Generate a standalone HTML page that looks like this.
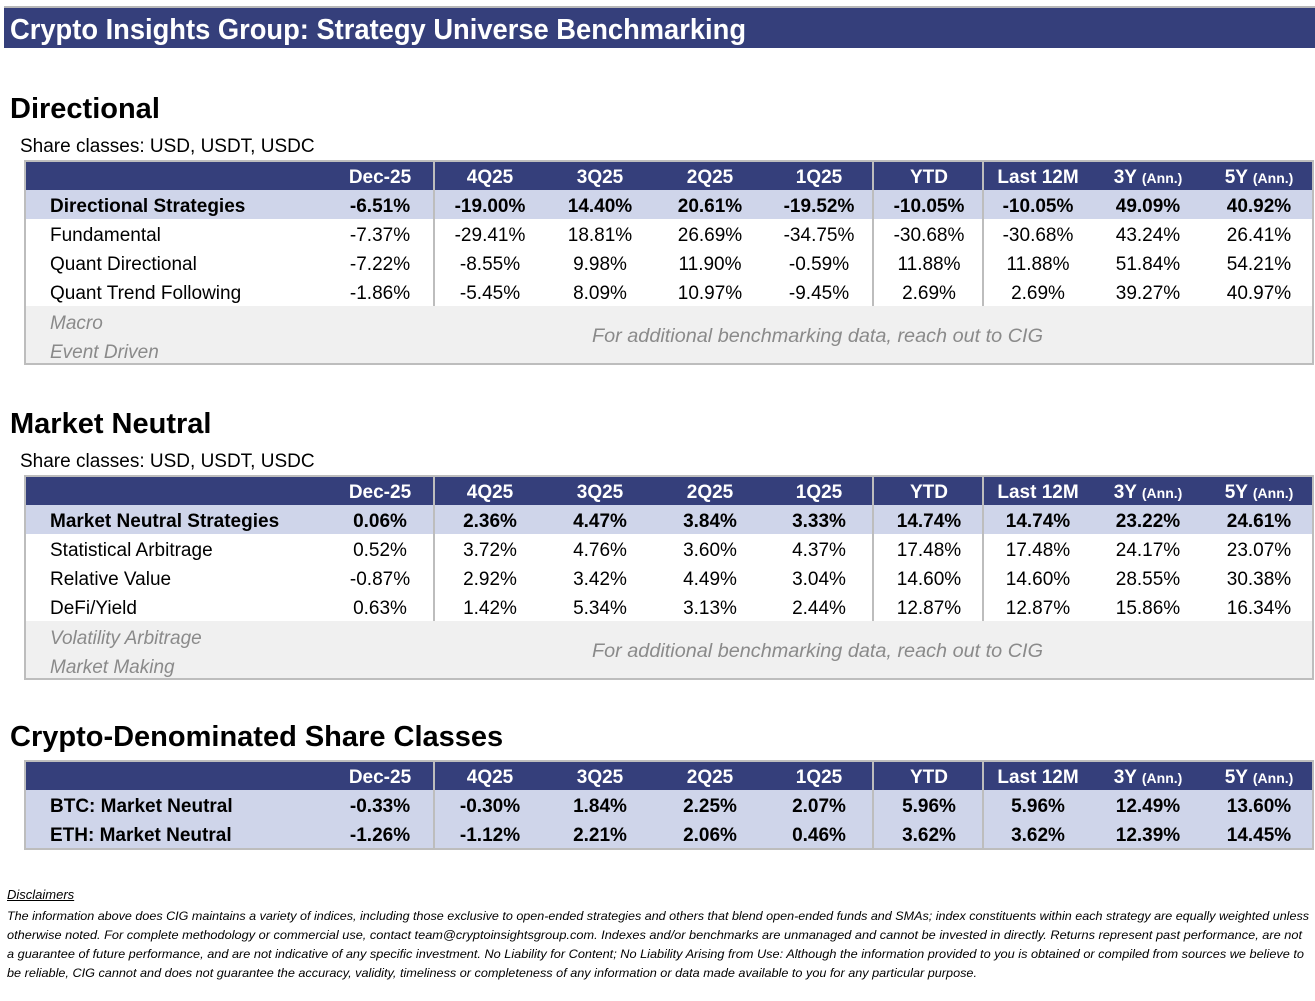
<!DOCTYPE html>
<html><head><meta charset="utf-8"><style>
body{margin:0;width:1315px;height:1001px;background:#fff;position:relative;overflow:hidden;font-family:"Liberation Sans",sans-serif;color:#000}
.a{position:absolute;white-space:nowrap}
.fit{transform-origin:0 50%}
.bar{position:absolute;left:4px;top:6px;width:1311px;height:42px;background:#353f7b;border-top:2px solid #b8b8b8;box-sizing:border-box}
.h{background:#353f7b;position:absolute}
.cell{position:absolute;width:110px;text-align:center;font-size:19px;line-height:29px;padding-top:2px}
.lab{position:absolute;left:50px;font-size:19px;line-height:29px;padding-top:2px}
</style></head><body>
<div class="bar"></div>
<div class="a fit" data-w="736" style="left:10px;top:12px;font-size:29px;font-weight:bold;color:#fff;line-height:36px">Crypto Insights Group: Strategy Universe Benchmarking</div>
<div id="root"></div>
<div class="a" style="left:7px;top:886px;font-size:13px;font-style:italic;text-decoration:underline;line-height:18px">Disclaimers</div>
<div class="a fit" data-w="1302" style="left:7px;top:907px;font-size:12px;font-style:italic;line-height:19px">The information above does CIG maintains a variety of indices, including those exclusive to open-ended strategies and others that blend open-ended funds and SMAs; index constituents within each strategy are equally weighted unless</div>
<div class="a fit" data-w="1295" style="left:7px;top:926px;font-size:12px;font-style:italic;line-height:19px">otherwise noted. For complete methodology or commercial use, contact team@cryptoinsightsgroup.com. Indexes and/or benchmarks are unmanaged and cannot be invested in directly. Returns represent past performance, are not</div>
<div class="a fit" data-w="1297" style="left:7px;top:945px;font-size:12px;font-style:italic;line-height:19px">a guarantee of future performance, and are not indicative of any specific investment. No Liability for Content; No Liability Arising from Use: Although the information provided to you is obtained or compiled from sources we believe to</div>
<div class="a fit" data-w="970" style="left:7px;top:964px;font-size:12px;font-style:italic;line-height:19px">be reliable, CIG cannot and does not guarantee the accuracy, validity, timeliness or completeness of any information or data made available to you for any particular purpose.</div>
<script>
const columns=["Dec-25","4Q25","3Q25","2Q25","1Q25","YTD","Last 12M","3Y","5Y"];
const dirLabels=["Directional Strategies","Fundamental","Quant Directional","Quant Trend Following"];
const dirValues=[
["-6.51%","-19.00%","14.40%","20.61%","-19.52%","-10.05%","-10.05%","49.09%","40.92%"],
["-7.37%","-29.41%","18.81%","26.69%","-34.75%","-30.68%","-30.68%","43.24%","26.41%"],
["-7.22%","-8.55%","9.98%","11.90%","-0.59%","11.88%","11.88%","51.84%","54.21%"],
["-1.86%","-5.45%","8.09%","10.97%","-9.45%","2.69%","2.69%","39.27%","40.97%"]];
const dirMore=["Macro","Event Driven"];
const mnLabels=["Market Neutral Strategies","Statistical Arbitrage","Relative Value","DeFi/Yield"];
const mnValues=[
["0.06%","2.36%","4.47%","3.84%","3.33%","14.74%","14.74%","23.22%","24.61%"],
["0.52%","3.72%","4.76%","3.60%","4.37%","17.48%","17.48%","24.17%","23.07%"],
["-0.87%","2.92%","3.42%","4.49%","3.04%","14.60%","14.60%","28.55%","30.38%"],
["0.63%","1.42%","5.34%","3.13%","2.44%","12.87%","12.87%","15.86%","16.34%"]];
const mnMore=["Volatility Arbitrage","Market Making"];
const cryptoLabels=["BTC: Market Neutral","ETH: Market Neutral"];
const cryptoValues=[
["-0.33%","-0.30%","1.84%","2.25%","2.07%","5.96%","5.96%","12.49%","13.60%"],
["-1.26%","-1.12%","2.21%","2.06%","0.46%","3.62%","3.62%","12.39%","14.45%"]];
const centers=[380,490,600,710,819,929,1038,1148,1259];
const root=document.getElementById('root');
function el(tag,cls,style,text){const e=document.createElement(tag);if(cls)e.className=cls;e.style.cssText=style;if(text!=null)e.textContent=text;root.appendChild(e);return e;}
function section(title,sub,top,labels,values,more,key,allBold){
  const t=el('div','a',`left:10px;top:${top+1}px;font-size:29px;font-weight:bold;line-height:36px`,title);
  
  
  let y=top+70;
  if(sub){const s=el('div','a',`left:20px;top:${top+45}px;font-size:19px;line-height:24px`,sub);
    
    }
  else y=top+42;
  const nRows=labels.length, extra=more?57:0;
  const h=2+28+nRows*29+extra+2;
  const box=el('div','',`position:absolute;left:24px;top:${y}px;width:1290px;height:${h}px;border:2px solid #bdbdbd;box-sizing:border-box`);
  
  
  const hy=y+2;
  const hd=el('div','h',`left:26px;top:${hy}px;width:1286px;height:28px`);
  
  
  columns.forEach((c,i)=>{
    const e=el('div','cell',`left:${centers[i]-55}px;top:${hy}px;color:#fff;font-weight:bold;line-height:28px`);
    if(c==='3Y'||c==='5Y'){e.innerHTML=c+' <span style="font-size:14px">(Ann.)</span>';}else e.textContent=c;
    
    
  });
  labels.forEach((lab,r)=>{
    const ry=hy+28+r*29; const bold=allBold||r===0;
    const bg=el('div','',`position:absolute;left:26px;top:${ry}px;width:1286px;height:29px;background:${bold?'#cfd5ea':'#fff'}`);
    
    
    const l=el('div','lab',`top:${ry}px;font-weight:${bold?'bold':'normal'}`,lab);
    
    
    values[r].forEach((v,i)=>{
      const c=el('div','cell',`left:${centers[i]-55}px;top:${ry}px;font-weight:${bold?'bold':'normal'}`,v);
      
      
    });
  });
  const vy=hy, vh=28+nRows*29;
  [434,873,983].forEach(x=>{const d=el('div','',`position:absolute;left:${x-1}px;top:${vy}px;width:2px;height:${vh}px;background:#bdbdbd`);
    
    });
  if(more){
    const gy=hy+28+nRows*29;
    const g=el('div','',`position:absolute;left:26px;top:${gy}px;width:1286px;height:57px;background:#f0f0f0`);
    
    
    more.forEach((m,i)=>{const e=el('div','lab',`top:${gy+1+i*29}px;color:#8a8a8a;font-style:italic`,m);
      
      });
    const n=el('div','a fit',`left:592px;top:${gy+16}px;font-size:19px;line-height:29px;color:#8a8a8a;font-style:italic`,'For additional benchmarking data, reach out to CIG');
    n.dataset.w='451';
    
    
  }
}
section('Directional','Share classes: USD, USDT, USDC',90,dirLabels,dirValues,dirMore,'directional',false);
section('Market Neutral','Share classes: USD, USDT, USDC',405,mnLabels,mnValues,mnMore,'market-neutral',false);
section('Crypto-Denominated Share Classes',null,718,cryptoLabels,cryptoValues,null,'crypto',true);
document.querySelectorAll('.fit').forEach(e=>{const w=+e.dataset.w;const a=e.getBoundingClientRect().width;if(w&&a)e.style.transform=`scaleX(${w/a})`;});
</script>
</body></html>
